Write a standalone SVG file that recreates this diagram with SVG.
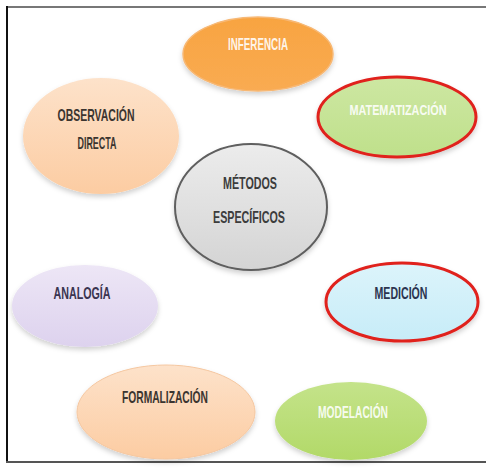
<svg xmlns="http://www.w3.org/2000/svg" width="486" height="471" viewBox="0 0 486 471">
<style>
.t{font-family:"Liberation Sans",Arial,sans-serif;font-size:17px;font-weight:bold;text-anchor:middle;}
.dk{fill:#3b3530;}
.wh{fill:#ffffff;fill-opacity:0.9;}
.red{stroke:#e0201e;stroke-width:3;}
</style>
<defs>
<filter id="sh" x="-20%" y="-20%" width="140%" height="150%">
<feDropShadow dx="0" dy="3" stdDeviation="2.5" flood-color="#000" flood-opacity="0.18"/>
</filter>
<linearGradient id="gOr" x1="0" y1="0" x2="0" y2="1"><stop offset="0" stop-color="#f8a441"/><stop offset="1" stop-color="#f9ab52"/></linearGradient>
<linearGradient id="gGr" x1="0" y1="0" x2="0" y2="1"><stop offset="0" stop-color="#cde7a2"/><stop offset="1" stop-color="#bfe08b"/></linearGradient>
<linearGradient id="gPe" x1="0" y1="0" x2="0" y2="1"><stop offset="0" stop-color="#fde2ca"/><stop offset="1" stop-color="#fccca2"/></linearGradient>
<linearGradient id="gGy" x1="0" y1="0" x2="0" y2="1"><stop offset="0" stop-color="#ececec"/><stop offset="1" stop-color="#d4d4d4"/></linearGradient>
<linearGradient id="gLa" x1="0" y1="0" x2="0" y2="1"><stop offset="0" stop-color="#ede6f6"/><stop offset="1" stop-color="#ddd2ee"/></linearGradient>
<linearGradient id="gCy" x1="0" y1="0" x2="0" y2="1"><stop offset="0" stop-color="#dcf4fb"/><stop offset="1" stop-color="#c7ecf8"/></linearGradient>
<linearGradient id="gLg" x1="0" y1="0" x2="0" y2="1"><stop offset="0" stop-color="#c4e38a"/><stop offset="1" stop-color="#b2d968"/></linearGradient>
</defs>
<rect x="0" y="0" width="486" height="471" fill="#ffffff"/>
<g id="frame">
<line x1="7" y1="7" x2="486" y2="7" stroke="#777" stroke-width="2"/>
<line x1="7" y1="6" x2="7" y2="463" stroke="#111" stroke-width="2"/>
<line x1="6" y1="462" x2="486" y2="462" stroke="#555" stroke-width="2"/>
</g>
<g id="connectors"></g>
<g id="inferencia">
<ellipse cx="258" cy="54" rx="75" ry="37" fill="url(#gOr)" stroke="#f7b875" stroke-width="1.5" filter="url(#sh)"/>
<text class="t wh" x="258" y="50" textLength="60" lengthAdjust="spacingAndGlyphs">INFERENCIA</text>
</g>
<g id="matematizacion">
<ellipse cx="397" cy="117" rx="79" ry="40" fill="url(#gGr)" class="red" filter="url(#sh)"/>
<text class="t wh" x="398" y="115" font-size="15" style="font-size:15px" textLength="97" lengthAdjust="spacingAndGlyphs">MATEMATIZACIÓN</text>
</g>
<g id="observacion">
<ellipse cx="101" cy="136" rx="78" ry="58" fill="url(#gPe)" filter="url(#sh)"/>
<text class="t dk" x="96" y="121" textLength="77" lengthAdjust="spacingAndGlyphs">OBSERVACIÓN</text>
<text class="t dk" x="97" y="149" textLength="39" lengthAdjust="spacingAndGlyphs">DIRECTA</text>
</g>
<g id="metodos">
<ellipse cx="251" cy="207" rx="76" ry="63" fill="url(#gGy)" stroke="#5e5e5e" stroke-width="2" filter="url(#sh)"/>
<text class="t" fill="#3c3c3c" x="250" y="189" textLength="54" lengthAdjust="spacingAndGlyphs">MÉTODOS</text>
<text class="t" fill="#3c3c3c" x="249" y="223" textLength="72" lengthAdjust="spacingAndGlyphs">ESPECÍFICOS</text>
</g>
<g id="analogia">
<ellipse cx="85" cy="306" rx="73" ry="41" fill="url(#gLa)" filter="url(#sh)"/>
<text class="t" fill="#3a3450" x="82" y="299" textLength="57" lengthAdjust="spacingAndGlyphs">ANALOGÍA</text>
</g>
<g id="medicion">
<ellipse cx="402" cy="302" rx="76" ry="39" fill="url(#gCy)" class="red" filter="url(#sh)"/>
<text class="t" fill="#2c3550" x="401" y="299" textLength="53" lengthAdjust="spacingAndGlyphs">MEDICIÓN</text>
</g>
<g id="formalizacion">
<ellipse cx="166" cy="412" rx="89" ry="47" fill="url(#gPe)" stroke="#f5c7a0" stroke-width="1" filter="url(#sh)"/>
<text class="t dk" x="165" y="403" textLength="86" lengthAdjust="spacingAndGlyphs">FORMALIZACIÓN</text>
</g>
<g id="modelacion">
<ellipse cx="351" cy="421" rx="76" ry="39" fill="url(#gLg)" filter="url(#sh)"/>
<text class="t wh" x="353" y="418" textLength="70" lengthAdjust="spacingAndGlyphs">MODELACIÓN</text>
</g>
</svg>
